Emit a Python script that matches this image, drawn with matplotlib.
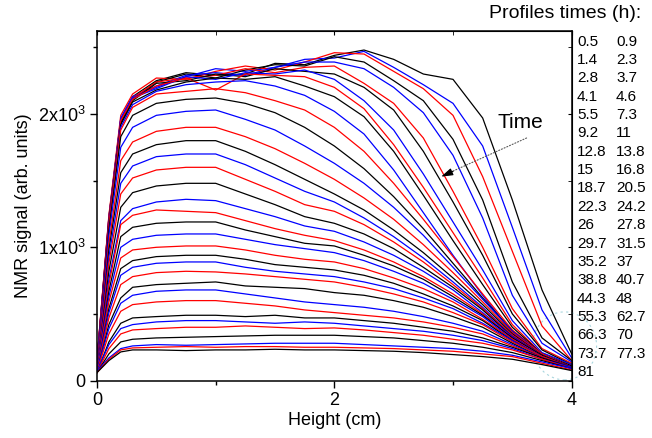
import matplotlib
matplotlib.use("Agg")
import matplotlib.pyplot as plt
from matplotlib.patches import Ellipse

plt.rcParams['font.family'] = ['Liberation Sans', 'DejaVu Sans']
plt.rcParams['mathtext.fontset'] = 'custom'
plt.rcParams['mathtext.rm'] = 'Liberation Sans'

# sample positions along the tube (cm)
height_cm = [0, 0.1, 0.2, 0.3, 0.5, 0.75, 1.0, 1.25, 1.5, 1.75,
             2.0, 2.25, 2.5, 2.75, 3.0, 3.25, 3.5, 3.75, 4.0]

times_h = [0.5, 0.9, 1.4, 2.3, 2.8, 3.7, 4.1, 4.6, 5.5, 7.3, 9.2, 11, 12.8,
           13.8, 15, 16.8, 18.7, 20.5, 22.3, 24.2, 26, 27.8, 29.7, 31.5,
           35.2, 37, 38.8, 40.7, 44.3, 48, 55.3, 62.7, 66.3, 70, 73.7,
           77.3, 81]

# NMR signal profiles, one per time
p_0_5 = [150, 1230, 1960, 2130, 2250, 2310, 2290, 2300, 2380, 2370, 2440, 2480, 2410, 2300, 2260, 1970, 1355, 680, 200]
p_0_9 = [140, 1200, 1950, 2120, 2200, 2280, 2340, 2320, 2350, 2410, 2420, 2470, 2350, 2220, 2080, 1760, 1150, 530, 170]
p_1_4 = [160, 1240, 1990, 2150, 2270, 2260, 2320, 2360, 2330, 2390, 2460, 2450, 2320, 2190, 1990, 1530, 970, 410, 150]
p_2_3 = [130, 1190, 1940, 2110, 2240, 2300, 2270, 2330, 2370, 2360, 2430, 2390, 2250, 2100, 1810, 1355, 740, 320, 150]
p_2_8 = [150, 1220, 1970, 2130, 2210, 2290, 2310, 2290, 2350, 2390, 2390, 2340, 2200, 2010, 1690, 1220, 640, 280, 140]
p_3_7 = [140, 1200, 1950, 2120, 2240, 2270, 2290, 2340, 2310, 2350, 2360, 2230, 2080, 1820, 1420, 1000, 540, 240, 130]
p_4_1 = [130, 1190, 1930, 2100, 2230, 2250, 2300, 2280, 2340, 2320, 2300, 2200, 2030, 1720, 1340, 940, 500, 230, 120]
p_4_6 = [140, 1210, 1960, 2120, 2190, 2280, 2260, 2310, 2300, 2330, 2260, 2100, 1880, 1550, 1190, 830, 450, 210, 120]
p_5_5 = [150, 1220, 1950, 2110, 2210, 2270, 2180, 2300, 2290, 2280, 2200, 2040, 1770, 1450, 1110, 770, 420, 200, 110]
p_7_3 = [130, 1190, 1920, 2090, 2180, 2240, 2270, 2260, 2280, 2210, 2130, 1980, 1720, 1390, 1050, 720, 400, 200, 110]
p_9_2 = [140, 1180, 1900, 2070, 2170, 2220, 2240, 2250, 2210, 2140, 2020, 1850, 1580, 1260, 940, 640, 360, 190, 100]
p_11 = [150, 1170, 1880, 2050, 2150, 2170, 2190, 2160, 2100, 2030, 1900, 1720, 1480, 1210, 930, 650, 380, 200, 100]
p_12_8 = [120, 1130, 1830, 1990, 2080, 2110, 2120, 2080, 2010, 1900, 1760, 1590, 1380, 1140, 880, 620, 370, 200, 100]
p_13_8 = [140, 1090, 1750, 1900, 1990, 2020, 2030, 1960, 1880, 1760, 1630, 1480, 1300, 1090, 850, 610, 370, 200, 100]
p_15 = [120, 1030, 1650, 1790, 1870, 1900, 1900, 1830, 1740, 1630, 1510, 1370, 1210, 1020, 810, 590, 360, 200, 100]
p_16_8 = [110, 980, 1560, 1700, 1770, 1800, 1800, 1720, 1620, 1510, 1400, 1280, 1130, 960, 770, 570, 350, 190, 100]
p_18_7 = [130, 930, 1480, 1610, 1680, 1700, 1700, 1620, 1520, 1420, 1340, 1220, 1080, 920, 740, 550, 340, 190, 100]
p_20_5 = [120, 880, 1400, 1520, 1580, 1600, 1600, 1510, 1420, 1320, 1270, 1170, 1040, 890, 720, 540, 340, 190, 100]
p_22_3 = [100, 820, 1300, 1410, 1460, 1480, 1480, 1400, 1320, 1230, 1180, 1100, 990, 850, 700, 530, 330, 190, 100]
p_24_2 = [110, 760, 1200, 1290, 1340, 1360, 1350, 1290, 1230, 1160, 1120, 1040, 940, 820, 680, 510, 330, 190, 100]
p_26 = [100, 720, 1170, 1240, 1280, 1270, 1260, 1200, 1140, 1090, 1050, 980, 890, 780, 650, 500, 320, 190, 100]
p_27_8 = [90, 670, 1080, 1150, 1180, 1190, 1190, 1130, 1080, 1030, 1010, 940, 860, 760, 630, 490, 320, 190, 100]
p_29_7 = [100, 630, 1000, 1060, 1090, 1100, 1100, 1060, 1020, 990, 960, 900, 820, 730, 610, 480, 310, 180, 100]
p_31_5 = [90, 590, 920, 980, 1000, 1010, 1010, 980, 940, 910, 890, 840, 770, 690, 590, 460, 310, 180, 100]
p_35_2 = [80, 540, 840, 900, 930, 940, 940, 910, 870, 850, 830, 790, 730, 650, 560, 450, 300, 180, 100]
p_37 = [90, 510, 790, 850, 880, 890, 890, 850, 820, 800, 780, 740, 690, 620, 540, 430, 300, 180, 100]
p_38_8 = [80, 470, 720, 780, 810, 820, 815, 800, 780, 760, 740, 700, 650, 590, 510, 420, 290, 180, 100]
p_40_7 = [70, 420, 620, 700, 720, 730, 740, 710, 700, 690, 660, 640, 600, 550, 480, 400, 280, 170, 100]
p_44_3 = [80, 390, 580, 640, 670, 680, 680, 650, 620, 590, 570, 550, 520, 480, 430, 370, 270, 170, 100]
p_48 = [70, 350, 520, 570, 590, 600, 600, 580, 560, 530, 510, 490, 470, 440, 400, 350, 260, 170, 100]
p_55_3 = [60, 290, 430, 470, 480, 490, 490, 480, 490, 470, 470, 450, 430, 400, 370, 320, 250, 170, 100]
p_62_7 = [70, 270, 390, 420, 440, 450, 450, 440, 430, 440, 430, 410, 390, 370, 340, 300, 240, 160, 100]
p_66_3 = [60, 240, 350, 380, 390, 400, 400, 410, 400, 390, 395, 380, 360, 340, 310, 280, 230, 160, 90]
p_70 = [60, 200, 290, 310, 320, 325, 330, 335, 340, 340, 340, 330, 320, 300, 280, 250, 210, 150, 90]
p_73_7 = [70, 170, 240, 260, 270, 265, 270, 275, 280, 280, 280, 270, 260, 250, 240, 220, 190, 140, 90]
p_77_3 = [60, 160, 230, 245, 250, 255, 250, 255, 255, 250, 250, 245, 240, 230, 220, 200, 180, 130, 80]
p_81 = [60, 150, 215, 230, 230, 225, 230, 230, 235, 230, 230, 225, 220, 210, 195, 180, 160, 120, 75]

profiles = [p_0_5, p_0_9, p_1_4, p_2_3, p_2_8, p_3_7, p_4_1, p_4_6, p_5_5,
            p_7_3, p_9_2, p_11, p_12_8, p_13_8, p_15, p_16_8, p_18_7,
            p_20_5, p_22_3, p_24_2, p_26, p_27_8, p_29_7, p_31_5, p_35_2,
            p_37, p_38_8, p_40_7, p_44_3, p_48, p_55_3, p_62_7, p_66_3,
            p_70, p_73_7, p_77_3, p_81]

colors = ['black', 'blue', 'red']

fig = plt.figure(figsize=(6.52, 4.38), dpi=100)
ax = fig.add_axes([0.1488, 0.1311, 0.7280, 0.7988])

for i, prof in enumerate(profiles):
    ax.plot(height_cm, prof, color=colors[i % 3], lw=0.9)

ax.set_xlim(0, 4)
ax.set_ylim(0, 2625)
ax.set_xticks([0, 2, 4])
ax.set_xticks([1, 3], minor=True)
ax.set_yticks([0, 1000, 2000])
ax.set_yticklabels(['0', '1x10$^3$', '2x10$^3$'])
ax.set_yticks([500, 1500, 2500], minor=True)
ax.tick_params(which='major', direction='out', length=5, width=1, labelsize=13)
ax.tick_params(which='minor', direction='out', length=3, width=1)
for s in ax.spines.values():
    s.set_linewidth(1.1)

top = ax.secondary_xaxis('top')
top.set_xticks([0, 2, 4])
top.set_xticks([1, 3], minor=True)
top.tick_params(which='both', direction='in', labeltop=False, length=3)
right = ax.secondary_yaxis('right')
right.set_yticks([0, 1000, 2000])
right.set_yticks([500, 1500, 2500], minor=True)
right.tick_params(which='both', direction='in', labelright=False, length=3)

ax.set_xlabel('Height (cm)', fontsize=13, labelpad=2)
ax.set_ylabel('NMR signal (arb. units)', fontsize=13, labelpad=4)

# time arrow
ax.annotate('', xy=(2.92, 1540), xytext=(3.62, 1820),
            arrowprops=dict(arrowstyle='-', ls=':', color='0.35', lw=0.8,
                            shrinkA=0, shrinkB=0))
ax.annotate('', xy=(2.90, 1530), xytext=(3.0, 1570),
            arrowprops=dict(arrowstyle='-|>,head_length=0.7,head_width=0.22',
                            color='black', lw=0.8, shrinkA=0, shrinkB=0))
ax.text(3.57, 1940, 'Time', fontsize=15, ha='center', va='center')

ax.add_patch(Ellipse((3.94, 260), 0.54, 510, fill=False, ls=(0, (2, 3)),
                     ec='#a9d6de', lw=0.8, clip_on=False))

# legend of profile times
fig.text(0.983, 1 - 13 / 438, 'Profiles times (h):', fontsize=14,
         ha='right', va='center')
col1 = times_h[0::2]
col2 = times_h[1::2]
for i, t in enumerate(col1):
    y = 1 - (41.7 + 18.35 * i) / 438
    fig.text(577 / 652, y, f'{t:g}', fontsize=11, va='center')
    if i < len(col2):
        fig.text(616 / 652, y, f'{col2[i]:g}', fontsize=11, va='center')

fig.savefig('out.png', dpi=100)
